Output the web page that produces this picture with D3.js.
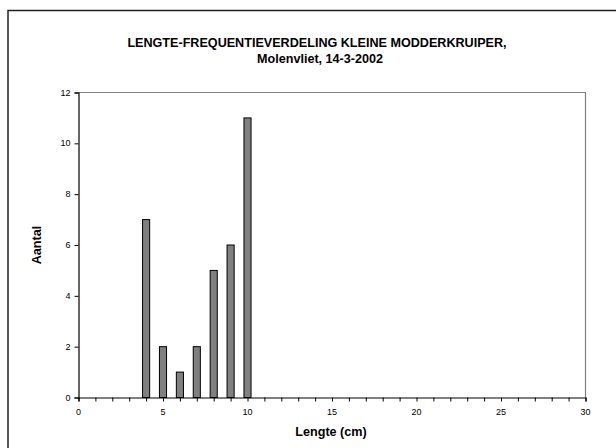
<!DOCTYPE html>
<html><head><meta charset="utf-8">
<script src="https://cdn.jsdelivr.net/npm/d3@7"></script>
<style>body{margin:0;background:#fff;}svg{display:block;font-family:"Liberation Sans",Arial,sans-serif;}</style>
</head><body>
<script>
const lengths = [4, 5, 6, 7, 8, 9, 10];
const counts  = [7, 2, 1, 2, 5, 6, 11];
const xTicks = [0, 5, 10, 15, 20, 25, 30];
const yTicks = [0, 2, 4, 6, 8, 10, 12];
const title1 = "LENGTE-FREQUENTIEVERDELING KLEINE MODDERKRUIPER,";
const title2 = "Molenvliet, 14-3-2002";

const W = 616, H = 448;
const svg = d3.select("body").append("svg").attr("width", W).attr("height", H);

// outer chart border
svg.append("rect").attr("x", 8).attr("y", 10.5).attr("width", 700).attr("height", 600)
  .attr("fill", "none").attr("stroke", "#222").attr("stroke-width", 1.5);

const x = d3.scaleLinear().domain([0, 30]).range([78.5, 585.5]);
const y = d3.scaleLinear().domain([0, 12]).range([397.5, 92.5]);

// plot frame top/right
svg.append("path").attr("d", `M${x(0)},${y(12)}H${x(30)}V${y(0)}`)
  .attr("fill", "none").attr("stroke", "#808080").attr("stroke-width", 1.2);

// bars
const bw = (x(1) - x(0)) * 0.42;
svg.append("g").selectAll("rect").data(lengths).join("rect")
  .attr("x", (d) => x(d) - bw / 2)
  .attr("y", (d, i) => y(counts[i]))
  .attr("width", bw)
  .attr("height", (d, i) => y(0) - y(counts[i]))
  .attr("fill", "#808080").attr("stroke", "#000").attr("stroke-width", 1);

// x axis
const xa = svg.append("g").attr("transform", `translate(0,${y(0)})`)
  .call(d3.axisBottom(x).tickValues(d3.range(0, 31)).tickSize(4).tickFormat(""));
xa.select(".domain").attr("stroke", "#000").attr("stroke-width", 1.2);
xa.selectAll(".tick line").attr("stroke", "#000");
svg.append("g").selectAll("text").data(xTicks).join("text")
  .attr("x", (d) => x(d)).attr("y", y(0) + 17)
  .attr("text-anchor", "middle").attr("font-size", 9).attr("fill", "#000").text((d) => d);

// y axis
const ya = svg.append("g").attr("transform", `translate(${x(0)},0)`)
  .call(d3.axisLeft(y).tickValues(yTicks).tickSize(4).tickFormat(""));
ya.select(".domain").attr("stroke", "#000").attr("stroke-width", 1.2);
ya.selectAll(".tick line").attr("stroke", "#000");
svg.append("g").selectAll("text").data(yTicks).join("text")
  .attr("x", x(0) - 8).attr("y", (d) => y(d) + 3)
  .attr("text-anchor", "end").attr("font-size", 9).attr("fill", "#000").text((d) => d);

// titles
svg.append("text").attr("x", 317).attr("y", 47).attr("text-anchor", "middle")
  .attr("font-size", 12.6).attr("font-weight", "bold").text(title1);
svg.append("text").attr("x", 320).attr("y", 62.5).attr("text-anchor", "middle")
  .attr("font-size", 12.6).attr("font-weight", "bold").text(title2);

// axis labels
svg.append("text").attr("x", 331).attr("y", 436).attr("text-anchor", "middle")
  .attr("font-size", 12.6).attr("font-weight", "bold").text("Lengte (cm)");
svg.append("text").attr("transform", "translate(41,245) rotate(-90)").attr("text-anchor", "middle")
  .attr("font-size", 12.6).attr("font-weight", "bold").text("Aantal");
</script>
</body></html>
